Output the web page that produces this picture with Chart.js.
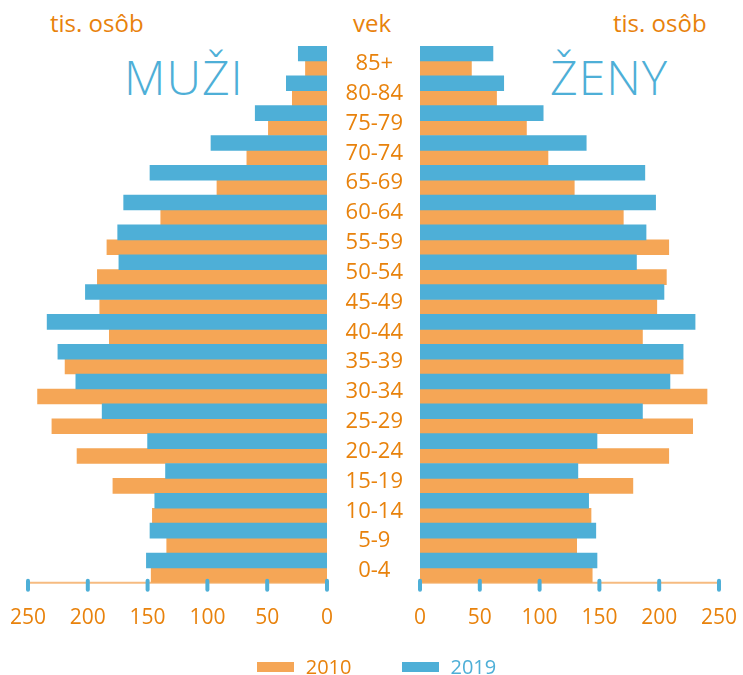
<!DOCTYPE html>
<html>
<head>
<meta charset="utf-8">
<script src="https://cdn.jsdelivr.net/npm/chart.js@4/dist/chart.umd.min.js"></script>
<style>
  html, body { margin: 0; padding: 0; background: #fff; }
  body { width: 743px; height: 675px; position: relative; overflow: hidden; font-family: "Open Sans", "Noto Sans", sans-serif; }
  #leftWrap { position: absolute; left: 0; top: 0; width: 340px; height: 675px; }
  #rightWrap { position: absolute; left: 330px; top: 0; width: 430px; height: 675px; }
  .hdr { position: absolute; top: 11px; font-size: 24px; color: #E8820C; line-height: 24px; white-space: nowrap; }
  .big { position: absolute; top: 44px; font-size: 48px; font-weight: 300; color: #4EAFD7; line-height: 66px; letter-spacing: 1px; white-space: nowrap; }
  #legend { position: absolute; top: 653px; left: 5px; width: 743px; display: flex; justify-content: center; font-size: 20px; line-height: 28px; }
  .li { display: flex; align-items: center; }
  .sw { width: 37px; height: 10px; margin-right: 12px; }
</style>
</head>
<body>
<div class="hdr" id="hL" style="left:50px"></div>
<div class="hdr" id="hC" style="left:353px"></div>
<div class="hdr" id="hR" style="left:613px"></div>
<div class="big" id="tL" style="left:124px"></div>
<div class="big" id="tR" style="left:550px"></div>
<div id="leftWrap"><canvas id="cL" width="340" height="675"></canvas></div>
<div id="rightWrap"><canvas id="cR" width="430" height="675"></canvas></div>
<div id="legend"></div>
<script>
// ---- data (top-to-bottom order of the pyramid) ----
const ageGroups = ["85+","80-84","75-79","70-74","65-69","60-64","55-59","50-54","45-49","40-44","35-39","30-34","25-29","20-24","15-19","10-14","5-9","0-4"];
const years = ["2010", "2019"];
// thousands of persons
const men2010   = [18, 29, 49, 67, 92, 139, 184, 192, 190, 182, 219, 242, 230, 209, 179, 146, 134, 147];
const men2019   = [24, 34, 60, 97, 148, 170, 175, 174, 202, 234, 225, 210, 188, 150, 135, 144, 148, 151];
const women2010 = [43, 64, 89, 107, 129, 170, 208, 206, 198, 186, 220, 240, 228, 208, 178, 143, 131, 144];
const women2019 = [61, 70, 103, 139, 188, 197, 189, 181, 204, 230, 220, 209, 186, 148, 132, 141, 147, 148];
const xTicks = [0, 50, 100, 150, 200, 250];
const texts = { unit: "tis. osôb", age: "vek", men: "MUŽI", women: "ŽENY" };

const ORANGE_BAR = "#F5A656";
const BLUE_BAR = "#4EAFD7";
const ORANGE_TXT = "#E8820C";
const AXIS_LINE = "#F6BB80";
const FONT = "'Open Sans', 'Noto Sans', sans-serif";

document.getElementById("hL").textContent = texts.unit;
document.getElementById("hR").textContent = texts.unit;
document.getElementById("hC").textContent = texts.age;
document.getElementById("tL").textContent = texts.men;
document.getElementById("tR").textContent = texts.women;

// legend
const leg = document.getElementById("legend");
[[years[0], ORANGE_BAR, ORANGE_TXT], [years[1], BLUE_BAR, BLUE_BAR]].forEach(([lab, c, tc], i) => {
  const d = document.createElement("div");
  d.className = "li";
  if (i === 1) d.style.marginLeft = "50px";
  const s = document.createElement("span"); s.className = "sw"; s.style.background = c;
  const t = document.createElement("span"); t.textContent = lab; t.style.color = tc;
  d.appendChild(s); d.appendChild(t); leg.appendChild(d);
});

// axis line behind bars + rounded tick marks
const axisPlugin = {
  id: "axisDeco",
  beforeDatasetsDraw(chart) {
    const x = chart.scales.x, ctx = chart.ctx, y = chart.chartArea.bottom;
    ctx.save();
    ctx.strokeStyle = AXIS_LINE; ctx.lineWidth = 2;
    ctx.beginPath();
    ctx.moveTo(x.getPixelForValue(0), y);
    ctx.lineTo(x.getPixelForValue(250), y);
    ctx.stroke();
    ctx.restore();
  },
  afterDatasetsDraw(chart) {
    const x = chart.scales.x, ctx = chart.ctx, y = chart.chartArea.bottom;
    ctx.save();
    ctx.strokeStyle = BLUE_BAR; ctx.lineWidth = 4; ctx.lineCap = "round";
    xTicks.forEach(v => {
      const px = x.getPixelForValue(v);
      ctx.beginPath(); ctx.moveTo(px, y - 2); ctx.lineTo(px, y + 7); ctx.stroke();
    });
    ctx.restore();
  }
};

function makeChart(id, d2019, d2010, reverse, padding, showY) {
  return new Chart(document.getElementById(id), {
    type: "bar",
    data: {
      labels: ageGroups,
      datasets: [
        { label: years[1], data: d2019, backgroundColor: BLUE_BAR, borderWidth: 0 },
        { label: years[0], data: d2010, backgroundColor: ORANGE_BAR, borderWidth: 0 }
      ]
    },
    options: {
      indexAxis: "y",
      responsive: false,
      animation: false,
      maintainAspectRatio: false,
      layout: { padding },
      datasets: { bar: { categoryPercentage: 1.0, barPercentage: 1.0 } },
      plugins: { legend: { display: false }, tooltip: { enabled: false } },
      scales: {
        x: {
          min: 0, max: 250, reverse,
          afterBuildTicks: s => { s.ticks = xTicks.map(v => ({ value: v })); },
          border: { display: false },
          grid: { display: false, drawTicks: false },
          ticks: { color: ORANGE_TXT, font: { family: FONT, size: 21 }, padding: 23, maxRotation: 0 }
        },
        y: {
          display: showY,
          position: "left",
          border: { display: false },
          grid: { display: false, drawTicks: false },
          afterFit: s => { if (showY) s.width = 90; },
          ticks: { color: ORANGE_TXT, font: { family: FONT, size: 22 }, crossAlign: "center", padding: 17, labelOffset: 3 }
        }
      }
    },
    plugins: [axisPlugin]
  });
}

makeChart("cL", men2019, men2010, true, { left: 28, right: 13, top: 46, bottom: 21 }, false);
makeChart("cR", women2019, women2010, false, { left: 0, right: 12, top: 46, bottom: 21 }, true);
</script>
</body>
</html>
